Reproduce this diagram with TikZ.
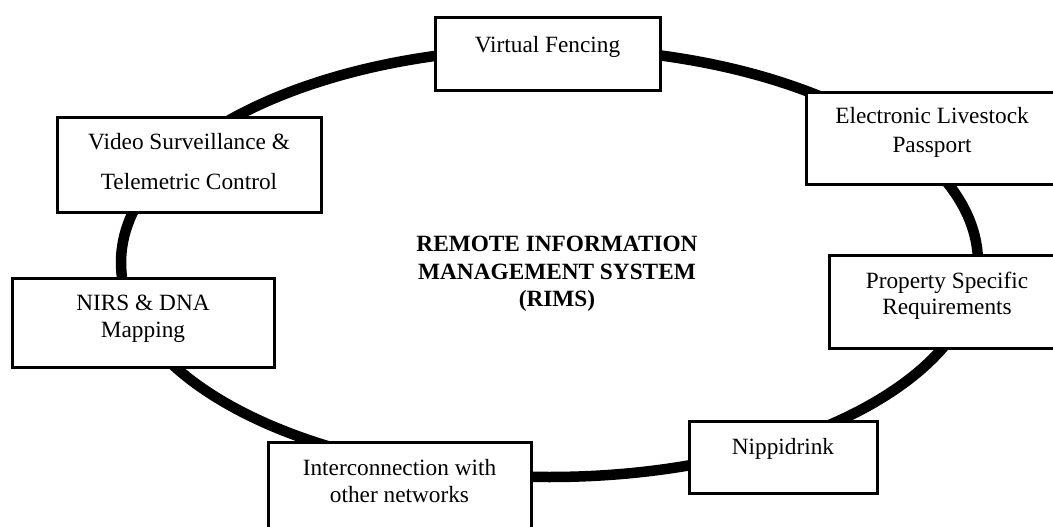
\documentclass[tikz,border=0pt]{standalone}
\usepackage{fontspec}
\setmainfont{Liberation Serif}
\usetikzlibrary{positioning}

\begin{document}
\begin{tikzpicture}[x=1pt,y=-1pt,
        ring/.style={line width=10.5pt},
        frame/.style={draw,line width=3pt,fill=white,inner sep=0pt},
        txt/.style={inner sep=0pt,align=center,font=\fontsize{23.3}{27}\selectfont}]
        \path[use as bounding box,clip] (0,0) rectangle (1053,527);
        \draw[ring] (549.5,262.6) ellipse [x radius=428.5,y radius=214.4];
        \node[frame,minimum width=225pt,minimum height=73pt] (fence) at (547.5,54.5) {};
        \node[frame,minimum width=252pt,minimum height=91pt] (passport) at (932,138.5) {};
        \node[frame,minimum width=236pt,minimum height=93pt] (property) at (947,301.5) {};
        \node[frame,minimum width=188pt,minimum height=72pt] (drink) at (783,457) {};
        \node[frame,minimum width=263pt,minimum height=100pt] (network) at (399.5,492) {};
        \node[frame,minimum width=262pt,minimum height=89pt] (nirs) at (143,322.5) {};
        \node[frame,minimum width=264pt,minimum height=95pt] (video) at (189,164.5) {};
        \node[txt,below=19.5pt of fence.north] (fencetext) {Virtual Fencing};
        \node[txt,font=\fontsize{23.3}{29}\selectfont,below=16pt of passport.north] (passporttext) {Electronic Livestock\\Passport};
        \node[txt,font=\fontsize{23.3}{26}\selectfont,below=18pt of property.north] (propertytext) {Property Specific\\Requirements};
        \node[txt,below=19pt of drink.north] (drinktext) {Nippidrink};
        \node[txt,below=19pt of network.north] (networktext) {Interconnection with\\other networks};
        \node[txt,below=18pt of nirs.north] (nirstext) {NIRS \& DNA\\Mapping};
        \node[txt,font=\fontsize{23.3}{40}\selectfont,below=18pt of video.north] (videotext) {Video Surveillance \&\\Telemetric Control};
        \node[txt,font=\fontsize{23.3}{27.5}\selectfont\bfseries,anchor=north] (rims) at (557,236) {REMOTE INFORMATION\\MANAGEMENT SYSTEM\\(RIMS)};
      \end{tikzpicture}
\end{document}
